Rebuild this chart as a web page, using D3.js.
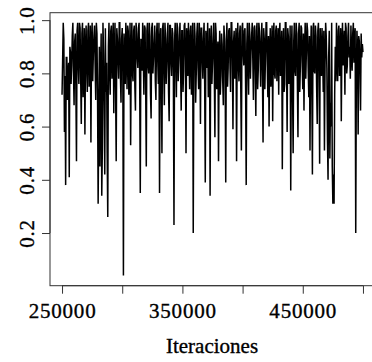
<!DOCTYPE html>
<html>
<head>
<meta charset="utf-8">
<script src="https://cdn.jsdelivr.net/npm/d3@7"></script>
<style>
  html, body { margin: 0; padding: 0; background: #fff; }
  svg { display: block; }
  text { font-family: "Liberation Serif", "Times New Roman", serif; fill: #000; }
</style>
</head>
<body>
<svg id="chart" width="372" height="362"></svg>
<script>
// ---- data ----
const iterStart = 250000;
const iterStep = 500;
const traceValues = [
  0.72,0.85, 0.99,0.93, 0.58,0.79, 0.38,0.86, 0.86,0.70, 0.80,0.84, 0.41,0.90, 0.88,0.76, 0.83,0.94, 0.99,0.81,
  0.68,0.92, 0.95,0.74, 0.47,0.96, 0.99,0.83, 0.76,0.99, 0.97,0.78, 0.61,0.95, 0.99,0.71, 0.84,0.97, 0.57,0.88,
  0.98,0.82, 0.73,0.96, 0.99,0.75, 0.80,0.98, 0.54,0.91, 0.99,0.77, 0.87,0.94, 0.98,0.83, 0.70,0.99, 0.95,0.72,
  0.31,0.62, 0.90,0.45, 0.78,0.95, 0.34,0.52, 0.99,0.87, 0.68,0.42, 0.97,0.73, 0.84,0.50, 0.26,0.90, 0.99,0.80,
  0.72,0.96, 0.98,0.78, 0.86,0.99, 0.65,0.88, 0.99,0.74, 0.47,0.97, 0.93,0.85, 0.78,0.99, 0.99,0.79, 0.69,0.93,
  0.97,0.82, 0.04,0.95, 0.88,0.76, 0.99,0.90, 0.74,0.98, 0.96,0.72, 0.83,0.99, 0.53,0.87, 0.99,0.80, 0.77,0.96,
  0.98,0.75, 0.66,0.99, 0.95,0.86, 0.82,0.97, 0.99,0.78, 0.35,0.93, 0.91,0.81, 0.99,0.87, 0.72,0.98, 0.97,0.74,
  0.45,0.96, 0.99,0.83, 0.80,0.99, 0.94,0.72, 0.63,0.97, 0.99,0.80, 0.86,0.92, 0.98,0.77, 0.70,0.95, 0.99,0.85,
  0.76,0.99, 0.35,0.91, 0.97,0.74, 0.50,0.97, 0.99,0.82, 0.68,0.99, 0.93,0.76, 0.84,0.95, 0.99,0.73, 0.62,0.98,
  0.98,0.84, 0.79,0.97, 0.95,0.78, 0.23,0.92, 0.99,0.86, 0.71,0.99, 0.97,0.77, 0.85,0.94, 0.99,0.81, 0.66,0.96,
  0.96,0.73, 0.81,0.98, 0.99,0.85, 0.50,0.97, 0.93,0.79, 0.99,0.87, 0.74,0.96, 0.98,0.72, 0.86,0.99, 0.20,0.83,
  0.99,0.94, 0.69,0.80, 0.95,0.99, 0.82,0.74, 0.99,0.90, 0.61,0.97, 0.97,0.85, 0.78,0.93, 0.99,0.76, 0.39,0.96,
  0.92,0.82, 0.99,0.71, 0.75,0.97, 0.34,0.88, 0.98,0.76, 0.84,0.93, 0.99,0.80, 0.56,0.99, 0.95,0.74, 0.88,0.92,
  0.47,0.85, 0.96,0.72, 0.79,0.95, 0.91,0.77, 0.68,0.98, 0.93,0.81, 0.39,0.92, 0.99,0.75, 0.82,0.96, 0.97,0.84,
  0.73,0.99, 0.99,0.86, 0.59,0.92, 0.96,0.78, 0.85,0.97, 0.47,0.90, 0.99,0.83, 0.77,0.95, 0.98,0.74, 0.51,0.97,
  0.99,0.88, 0.83,0.96, 0.97,0.75, 0.38,0.91, 0.99,0.82, 0.72,0.99, 0.95,0.78, 0.88,0.94, 0.99,0.85, 0.70,0.97,
  0.98,0.81, 0.64,0.96, 0.99,0.74, 0.81,0.99, 0.96,0.87, 0.75,0.93, 0.99,0.79, 0.54,0.97, 0.93,0.74, 0.86,0.99,
  0.99,0.83, 0.71,0.94, 0.60,0.88, 0.97,0.75, 0.84,0.98, 0.62,0.91, 0.99,0.80, 0.78,0.96, 0.98,0.77, 0.89,0.97,
  0.72,0.95, 0.99,0.79, 0.85,0.96, 0.44,0.88, 0.97,0.73, 0.76,0.99, 0.99,0.84, 0.58,0.97, 0.94,0.76, 0.82,0.98,
  0.36,0.86, 0.98,0.74, 0.50,0.92, 0.99,0.81, 0.79,0.99, 0.95,0.77, 0.56,0.95, 0.99,0.73, 0.83,0.98, 0.97,0.84,
  0.74,0.95, 0.66,0.88, 0.99,0.78, 0.88,0.99, 0.96,0.82, 0.71,0.94, 0.51,0.87, 0.98,0.76, 0.42,0.97, 0.99,0.81,
  0.80,0.98, 0.94,0.75, 0.61,0.96, 0.99,0.84, 0.46,0.97, 0.87,0.79, 0.97,0.88, 0.73,0.96, 0.51,0.83, 0.99,0.94,
  0.82,0.55, 0.40,0.86, 0.96,0.48, 0.69,0.60, 0.99,0.45, 0.31,0.42, 0.31,0.72, 0.90,0.77, 0.99,0.85, 0.77,0.96,
  0.98,0.79, 0.85,0.97, 0.62,0.90, 0.99,0.83, 0.88,0.96, 0.72,0.99, 0.97,0.80, 0.83,0.94, 0.99,0.86, 0.90,0.78,
  0.98,0.87, 0.81,0.95, 0.99,0.84, 0.93,0.97, 0.20,0.78, 0.96,0.89, 0.57,0.94, 0.92,0.82, 0.66,0.95, 0.86,0.91,
  0.88
];
const xTickValues = [250000, 300000, 350000, 400000, 450000, 500000];
const xTickLabels = ["250000", "", "350000", "", "450000", ""];
const yTickValues = [0.2, 0.4, 0.6, 0.8, 1.0];
const yTickLabels = ["0.2", "0.4", "0.6", "0.8", "1.0"];
const xAxisTitle = "Iteraciones";

// ---- layout ----
const svg = d3.select("#chart");
const mLeft = 50, mRight = 375, mTop = 12.7, mBottom = 285.7;

const points = traceValues.map((v, i) => ({ x: iterStart + i * iterStep, y: v }));
const xMin = d3.min(points, d => d.x), xMax = d3.max(points, d => d.x);
const yMin = d3.min(traceValues), yMax = d3.max(traceValues);
const xPad = (xMax - xMin) * 0.04, yPad = (yMax - yMin) * 0.04;

const x = d3.scaleLinear().domain([xMin - xPad, xMax + xPad]).range([mLeft, mRight]);
const y = d3.scaleLinear().domain([yMin - yPad, yMax + yPad]).range([mBottom, mTop]);

// trace line
svg.append("path")
  .datum(points)
  .attr("fill", "none")
  .attr("stroke", "#000")
  .attr("stroke-width", 1.5)
  .attr("d", d3.line().x(d => x(d.x)).y(d => y(d.y)));

// box
svg.append("rect")
  .attr("x", mLeft).attr("y", mTop)
  .attr("width", mRight - mLeft).attr("height", mBottom - mTop)
  .attr("fill", "none").attr("stroke", "#333").attr("stroke-width", 1);

const textStyle = sel => sel
  .style("font-family", "'Liberation Serif', serif")
  .style("font-size", "21px")
  .style("stroke", "#000")
  .style("stroke-width", "0.35px");

// x axis
const xAxis = svg.append("g")
  .attr("transform", `translate(0,${mBottom})`)
  .call(d3.axisBottom(x).tickValues(xTickValues).tickSize(8).tickPadding(9)
    .tickFormat((d, i) => xTickLabels[i]));
xAxis.select(".domain").attr("d", `M${x(xTickValues[0])},0H${x(xTickValues[xTickValues.length-1])}`).attr("stroke", "#333");
xAxis.selectAll(".tick line").attr("stroke", "#333");
xAxis.selectAll(".tick text")
  .call(textStyle)
  .style("letter-spacing", "0.8px")
  .attr("dy", "0.71em");

// y axis
const yAxis = svg.append("g")
  .attr("transform", `translate(${mLeft},0)`)
  .call(d3.axisLeft(y).tickValues(yTickValues).tickSize(8)
    .tickFormat((d, i) => yTickLabels[i]));
yAxis.select(".domain").attr("d", `M0,${y(yTickValues[0])}V${y(yTickValues[yTickValues.length-1])}`).attr("stroke", "#333");
yAxis.selectAll(".tick line").attr("stroke", "#333");
yAxis.selectAll(".tick text")
  .attr("x", null).attr("dy", null)
  .attr("text-anchor", "middle")
  .attr("transform", "translate(-16,0) rotate(-90)")
  .call(textStyle)
  .style("letter-spacing", "0.8px");

// axis title
svg.append("text")
  .attr("x", 212)
  .attr("y", 353)
  .attr("text-anchor", "middle")
  .call(textStyle)
  .text(xAxisTitle);
</script>
</body>
</html>
